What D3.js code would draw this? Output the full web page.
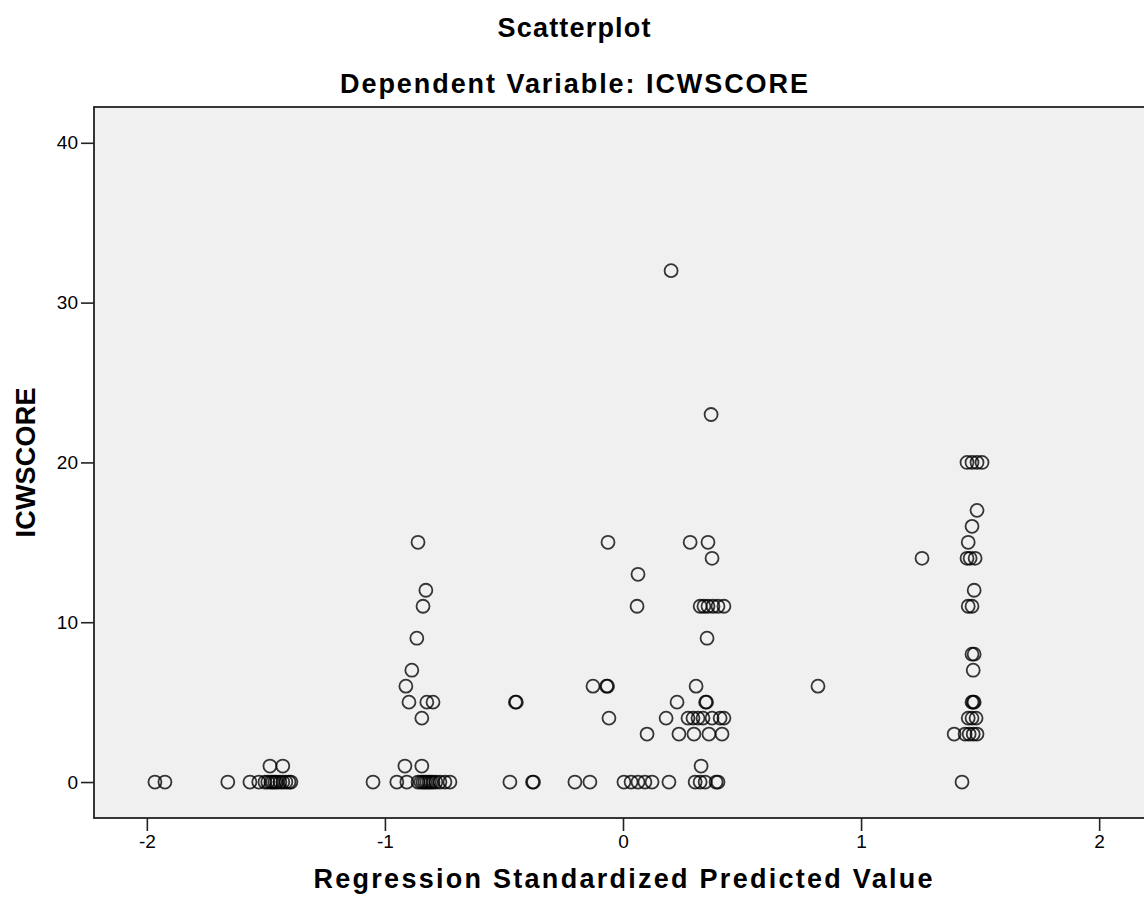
<!DOCTYPE html>
<meta charset="utf-8" />
<head>
  <style>
    body { margin: 0; background: #fff; }
    text { font-family: "Liberation Sans", Arial, sans-serif; fill: #000; }
    .title { font-size: 27px; font-weight: bold; }
    .axis-label { font-size: 27px; font-weight: bold; }
    .tick text { font-size: 19px; }
    .tick line { stroke: #222; stroke-width: 1.6px; }
    .dot { fill: none; stroke: #000; stroke-opacity: 0.78; stroke-width: 1.8px; }
  </style>
  <script src="https://cdn.jsdelivr.net/npm/d3@7"></script>
</head>
<body>
<script>
  // predicted value (x) and ICWSCORE (y)
  var predValues = [
    -1.966, -1.924, -1.660,
    -1.567, -1.530, -1.504, -1.492, -1.479, -1.471, -1.462, -1.454, -1.441, -1.429, -1.416, -1.403, -1.395,
    -1.483, -1.429,
    -1.050, -0.950, -0.908, -0.861, -0.849, -0.840, -0.832, -0.824, -0.815, -0.807, -0.798, -0.786, -0.769, -0.748, -0.727,
    -0.916, -0.845, -0.845, -0.899, -0.824, -0.798, -0.912, -0.887, -0.866, -0.840, -0.828, -0.861,
    -0.452, -0.448, -0.475, -0.380, -0.376, -0.202, -0.139,
    -0.126, -0.069, -0.065, -0.059, -0.063, 0.063, 0.059,
    0.004, 0.034, 0.063, 0.092, 0.122, 0.193,
    0.303, 0.324, 0.345, 0.391, 0.399,
    0.328,
    0.101, 0.235, 0.298, 0.361, 0.416,
    0.181, 0.273, 0.294, 0.315, 0.336, 0.374, 0.408, 0.424,
    0.227, 0.347, 0.351, 0.307, 0.353,
    0.324, 0.340, 0.357, 0.378, 0.399, 0.424,
    0.374, 0.282, 0.357, 0.370, 0.202,
    0.819, 1.256,
    1.424,
    1.391, 1.437, 1.454, 1.471, 1.487,
    1.450, 1.466, 1.483,
    1.466, 1.471, 1.475,
    1.471, 1.466, 1.475,
    1.450, 1.466, 1.475,
    1.445, 1.458, 1.479,
    1.450, 1.466, 1.487,
    1.445, 1.466, 1.487, 1.508
  ];
  var icwScores = [
    0, 0, 0,
    0, 0, 0, 0, 0, 0, 0, 0, 0, 0, 0, 0, 0,
    1, 1,
    0, 0, 0, 0, 0, 0, 0, 0, 0, 0, 0, 0, 0, 0, 0,
    1, 1, 4, 5, 5, 5, 6, 7, 9, 11, 12, 15,
    5, 5, 0, 0, 0, 0, 0,
    6, 6, 6, 4, 15, 13, 11,
    0, 0, 0, 0, 0, 0,
    0, 0, 0, 0, 0,
    1,
    3, 3, 3, 3, 3,
    4, 4, 4, 4, 4, 4, 4, 4,
    5, 5, 5, 6, 9,
    11, 11, 11, 11, 11, 11,
    14, 15, 15, 23, 32,
    6, 14,
    0,
    3, 3, 3, 3, 3,
    4, 4, 4,
    5, 5, 5,
    7, 8, 8,
    11, 11, 12,
    14, 14, 14,
    15, 16, 17,
    20, 20, 20, 20
  ];
  var xTicks = [-2, -1, 0, 1, 2];
  var yTicks = [0, 10, 20, 30, 40];

  var chartTitle = "Scatterplot",
    chartSubtitle = "Dependent Variable: ICWSCORE",
    xLabel = "Regression Standardized Predicted Value",
    yLabel = "ICWSCORE";

  var width = 1144, height = 905;
  var plot = { left: 94, top: 107, right: 1152, bottom: 818 };

  var x = d3.scaleLinear().domain([-2.222, 2.222]).range([plot.left, plot.right]);
  var y = d3.scaleLinear().domain([-2.25, 42.24]).range([plot.bottom, plot.top]);

  var svg = d3.select("body").append("svg")
    .attr("width", width)
    .attr("height", height);

  svg.append("rect")
    .attr("x", plot.left)
    .attr("y", plot.top)
    .attr("width", plot.right - plot.left)
    .attr("height", plot.bottom - plot.top)
    .attr("fill", "#f0f0f0")
    .attr("stroke", "#222")
    .attr("stroke-width", 1.8);

  var yAxis = svg.append("g")
    .attr("transform", "translate(" + plot.left + ",0)")
    .call(d3.axisLeft(y).tickValues(yTicks).tickSize(13).tickPadding(3).tickSizeOuter(0));
  yAxis.select(".domain").remove();

  var xAxis = svg.append("g")
    .attr("transform", "translate(0," + plot.bottom + ")")
    .call(d3.axisBottom(x).tickValues(xTicks).tickSize(13).tickPadding(4).tickSizeOuter(0));
  xAxis.select(".domain").remove();
  xAxis.selectAll(".tick text").text(function(d) { return d; });

  svg.append("g")
    .selectAll("circle")
    .data(predValues)
    .enter()
    .append("circle")
    .attr("class", "dot")
    .attr("cx", function(d) { return x(d); })
    .attr("cy", function(d, i) { return y(icwScores[i]); })
    .attr("r", 6.5);

  svg.append("text")
    .attr("class", "title")
    .attr("x", 574).attr("y", 37)
    .attr("text-anchor", "middle")
    .attr("textLength", 153).attr("lengthAdjust", "spacing")
    .text(chartTitle);

  svg.append("text")
    .attr("class", "title")
    .attr("x", 574).attr("y", 93)
    .attr("text-anchor", "middle")
    .attr("textLength", 468).attr("lengthAdjust", "spacing")
    .text(chartSubtitle);

  svg.append("text")
    .attr("class", "axis-label")
    .attr("x", x(0)).attr("y", 888)
    .attr("text-anchor", "middle")
    .attr("textLength", 619).attr("lengthAdjust", "spacing")
    .text(xLabel);

  svg.append("text")
    .attr("class", "axis-label")
    .attr("transform", "translate(35," + (plot.top + plot.bottom) / 2 + ") rotate(-90)")
    .attr("text-anchor", "middle")
    .attr("textLength", 150).attr("lengthAdjust", "spacing")
    .text(yLabel);
</script>
</body>
